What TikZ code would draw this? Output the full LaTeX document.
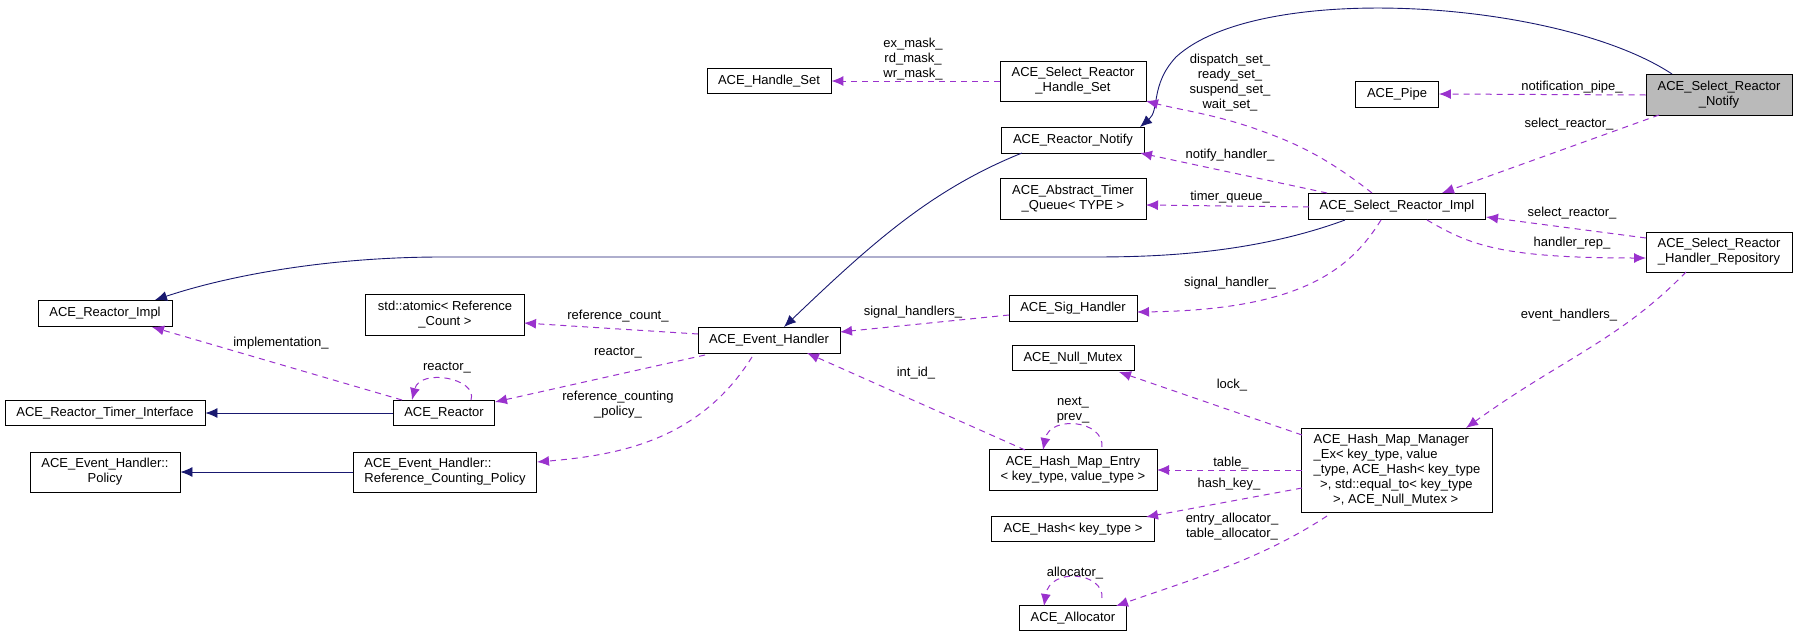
\documentclass[tikz,border=0pt]{standalone}
\usepackage{fontspec}
\setmainfont{Liberation Sans}
\usetikzlibrary{arrows.meta}
\definecolor{inh}{HTML}{191970}
\definecolor{mem}{HTML}{9A32CD}
\begin{document}
\begin{tikzpicture}[x=1pt,y=-1pt,
  font=\fontsize{13}{15}\selectfont,
  box/.style={draw=black,line width=0.9pt,fill=white,inner sep=0pt,align=center},
  inhe/.style={draw=inh,line width=0.9pt,-{Latex[length=12pt,width=10pt]}},
  memb/.style={draw=mem,line width=1pt,dash pattern=on 6pt off 5pt,-{Latex[length=12pt,width=10pt]}},
  lbl/.style={inner sep=0pt,align=center,font=\fontsize{13}{15}\selectfont}]
\useasboundingbox (0,0) rectangle (1797,637);
% nodes
\node[box,minimum width=124,minimum height=25] (hs) at (769,81) {ACE\_Handle\_Set};
\node[box,minimum width=146,minimum height=40] (srhs) at (1073,81) {ACE\_Select\_Reactor\\\_Handle\_Set};
\node[box,minimum width=143,minimum height=26] (rn) at (1073,140) {ACE\_Reactor\_Notify};
\node[box,minimum width=146,minimum height=41] (atq) at (1073,199) {ACE\_Abstract\_Timer\\\_Queue< TYPE >};
\node[box,minimum width=83,minimum height=26] (pipe) at (1397,94) {ACE\_Pipe};
\node[box,fill=black!27,minimum width=146,minimum height=41] (srn) at (1719,95) {ACE\_Select\_Reactor\\\_Notify};
\node[box,minimum width=177,minimum height=26] (sri) at (1397,206) {ACE\_Select\_Reactor\_Impl};
\node[box,minimum width=146,minimum height=40] (hr) at (1719,252) {ACE\_Select\_Reactor\\\_Handler\_Repository};
\node[box,minimum width=134,minimum height=26] (ri) at (105,313) {ACE\_Reactor\_Impl};
\node[box,minimum width=159,minimum height=41] (atom) at (445,315) {std::atomic< Reference\\\_Count >};
\node[box,minimum width=142,minimum height=26] (eh) at (769,340) {ACE\_Event\_Handler};
\node[box,minimum width=128,minimum height=26] (sig) at (1073,308) {ACE\_Sig\_Handler};
\node[box,minimum width=200,minimum height=25] (rti) at (105,413) {ACE\_Reactor\_Timer\_Interface};
\node[box,minimum width=101,minimum height=25] (reac) at (444,413) {ACE\_Reactor};
\node[box,minimum width=122,minimum height=25] (nm) at (1073,358) {ACE\_Null\_Mutex};
\node[box,minimum width=150,minimum height=40] (pol) at (105,472) {ACE\_Event\_Handler::\\Policy};
\node[box,minimum width=183,minimum height=40,align=left] (rcp) at (445,472) {ACE\_Event\_Handler::\\Reference\_Counting\_Policy};
\node[box,minimum width=168,minimum height=41] (hme) at (1073,470) {ACE\_Hash\_Map\_Entry\\< key\_type, value\_type >};
\node[box,minimum width=191,minimum height=84,align=left] (hmm) at (1397,470) {ACE\_Hash\_Map\_Manager\\\_Ex< key\_type, value\\\_type, ACE\_Hash< key\_type\\\phantom{x}>, std::equal\_to< key\_type\\\phantom{xxx}>, ACE\_Null\_Mutex >};
\node[box,minimum width=163,minimum height=25] (hash) at (1073,529) {ACE\_Hash< key\_type >};
\node[box,minimum width=107,minimum height=25] (alloc) at (1073,618) {ACE\_Allocator};
% inheritance
\coordinate (i1) at (1672,74);
\draw[inhe] (i1) .. controls (1560,0) and (1260,-20) .. (1176,57) .. controls (1150,85) and (1160,110) .. (1140,127);
\coordinate (i2) at (1345,220);
\draw[inhe] (i2) .. controls (1250,255) and (1150,257) .. (1092,257) -- (442,257) .. controls (330,257) and (230,275) .. (155,300);
\coordinate (i3) at (1022,153);
\draw[inhe] (i3) .. controls (930,190) and (870,245) .. (784,327);
\draw[inhe] (reac) -- (rti);
\draw[inhe] (rcp) -- (pol);
% members
\draw[memb] (srhs) -- (hs);
\node[lbl] at (913,59) {ex\_mask\_\\rd\_mask\_\\wr\_mask\_};
\draw[memb] (1372,193) .. controls (1330,160) and (1300,145) .. (1267,133) .. controls (1220,115) and (1180,110) .. (1146,101);
\node[lbl] at (1230,83) {dispatch\_set\_\\ready\_set\_\\suspend\_set\_\\wait\_set\_};
\draw[memb] (1327,193) -- (1140,153);
\node[lbl] at (1230,155) {notify\_handler\_};
\draw[memb] (1309,207) -- (1146,205);
\node[lbl] at (1230,197) {timer\_queue\_};
\draw[memb] (srn.west) -- (pipe.east);
\node[lbl] at (1572,87) {notification\_pipe\_};
\draw[memb] (1659,115) -- (1442,193);
\node[lbl] at (1569,124) {select\_reactor\_};
\draw[memb] (1646,238) -- (1486,217);
\node[lbl] at (1572,213) {select\_reactor\_};
\draw[memb] (1427,220) .. controls (1470,245) and (1500,258) .. (1646,258);
\node[lbl] at (1572,243) {handler\_rep\_};
\draw[memb] (1686,272) .. controls (1620,340) and (1560,360) .. (1466,428);
\node[lbl] at (1569,315) {event\_handlers\_};
\draw[memb] (1381,220) .. controls (1350,270) and (1300,310) .. (1137,312);
\node[lbl] at (1230,283) {signal\_handler\_};
\draw[memb] (1009,315) -- (840,332);
\node[lbl] at (913,312) {signal\_handlers\_};
\draw[memb] (698,334) -- (524,323);
\node[lbl] at (618,316) {reference\_count\_};
\draw[memb] (705,355) -- (495,402);
\node[lbl] at (618,353) {reactor\_};
\draw[memb] (402,400) -- (152,327);
\node[lbl] at (281,343) {implementation\_};
\draw[memb] (471,400) .. controls (478,378) and (420,368) .. (412,400);
\node[lbl] at (447,368) {reactor\_};
\draw[memb] (752,357) .. controls (700,440) and (620,455) .. (537,462);
\node[lbl] at (618,405) {reference\_counting\\\_policy\_};
\draw[memb] (1025,450) -- (807,353);
\node[lbl] at (916,373) {int\_id\_};
\draw[memb] (1302,435) -- (1119,372);
\node[lbl] at (1232,385) {lock\_};
\draw[memb] (1302,470) -- (1157,470);
\node[lbl] at (1231,463) {table\_};
\draw[memb] (1302,488) -- (1146,517);
\node[lbl] at (1229,484) {hash\_key\_};
\draw[memb] (1327,516) .. controls (1260,560) and (1190,580) .. (1116,606);
\node[lbl] at (1232,527) {entry\_allocator\_\\table\_allocator\_};
\draw[memb] (1102,447) .. controls (1104,420) and (1050,415) .. (1043,450);
\node[lbl] at (1073,410) {next\_\\prev\_};
\draw[memb] (1102,598) .. controls (1104,572) and (1050,567) .. (1044,606);
\node[lbl] at (1075,573) {allocator\_};
\end{tikzpicture}
\end{document}
